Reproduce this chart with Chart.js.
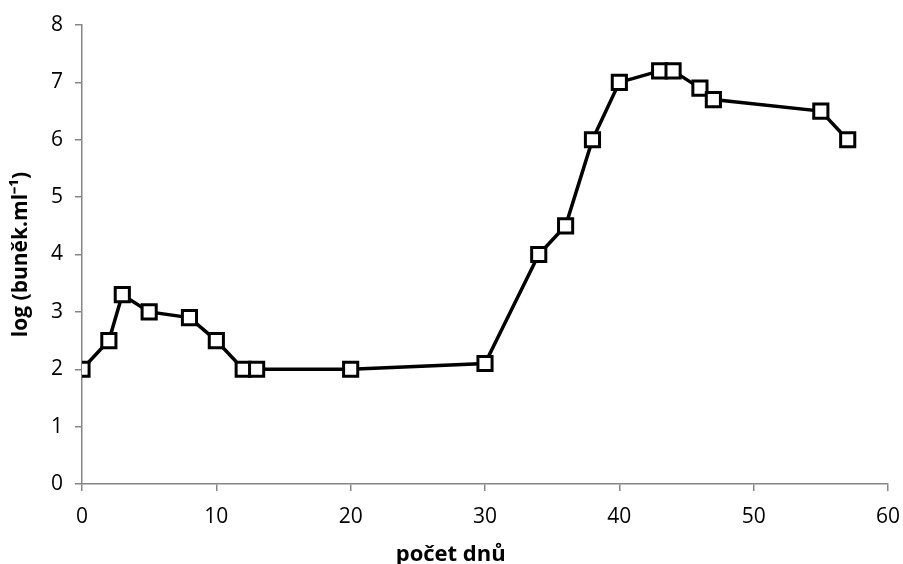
<!DOCTYPE html>
<html>
<head>
<meta charset="utf-8">
<script src="https://cdn.jsdelivr.net/npm/chart.js@4.4.0/dist/chart.umd.min.js"></script>
<style>
  html, body { margin: 0; padding: 0; background: #fff; }
  #wrap { width: 903px; height: 564px; }
</style>
</head>
<body>
<div id="wrap"><canvas id="chart"></canvas></div>
<script>
// data
const days = [0, 2, 3, 5, 8, 10, 12, 13, 20, 30, 34, 36, 38, 40, 43, 44, 46, 47, 55, 57];
const logCells = [2, 2.5, 3.3, 3, 2.9, 2.5, 2, 2, 2, 2.1, 4, 4.5, 6, 7, 7.2, 7.2, 6.9, 6.7, 6.5, 6];
const xTicks = [0, 10, 20, 30, 40, 50, 60];
const yTicks = [0, 1, 2, 3, 4, 5, 6, 7, 8];

const axisGray = "#868686";
const fontFam = "'Open Sans', 'Liberation Sans', sans-serif";

new Chart(document.getElementById("chart"), {
	type: "scatter",
	data: {
		datasets: [
			{
				data: days.map((d, i) => ({ x: d, y: logCells[i] })),
				showLine: true,
				borderColor: "#000",
				borderWidth: 3.5,
				pointStyle: "rect",
				pointRadius: 10,
				pointBorderWidth: 3,
				pointBackgroundColor: "#fff",
				pointBorderColor: "#000",
			},
		],
	},
	options: {
		responsive: true,
		maintainAspectRatio: false,
		animation: false,
		layout: { padding: { top: 25, right: 15, left: 0, bottom: 0 } },
		plugins: { legend: { display: false }, tooltip: { enabled: false } },
		scales: {
			x: {
				type: "linear",
				min: 0,
				max: 60,
				afterBuildTicks: (s) => { s.ticks = xTicks.map((v) => ({ value: v })); },
				grid: { display: true, drawOnChartArea: false, drawTicks: true, tickLength: 7, color: axisGray, lineWidth: 1.5 },
				border: { color: axisGray, width: 1.5 },
				ticks: { color: "#000", font: { family: fontFam, size: 21 }, padding: 13, maxRotation: 0 },
				title: {
					display: true,
					// trailing spaces nudge the title left, like in the original
					text: "počet dnů" + "\u00A0".repeat(12),
					color: "#000",
					font: { family: fontFam, size: 22, weight: "bold" },
					padding: { top: 0, bottom: -4 },
				},
				afterFit: (s) => { s.height = 80; s.paddingLeft = 0; s.paddingRight = 0; },
			},
			y: {
				min: 0,
				max: 8,
				afterBuildTicks: (s) => { s.ticks = yTicks.map((v) => ({ value: v })); },
				grid: { display: true, drawOnChartArea: false, drawTicks: true, tickLength: 7, color: axisGray, lineWidth: 1.5 },
				border: { color: axisGray, width: 1.5 },
				ticks: { color: "#000", font: { family: fontFam, size: 21 }, padding: 12 },
				title: {
					display: true,
					text: "log (buněk.ml⁻¹)",
					color: "#000",
					font: { family: fontFam, size: 21, weight: "bold" },
					padding: { top: 8, bottom: 0 },
				},
				afterFit: (s) => { s.width = 82; s.paddingTop = 0; s.paddingBottom = 0; },
			},
		},
	},
});
</script>
</body>
</html>
